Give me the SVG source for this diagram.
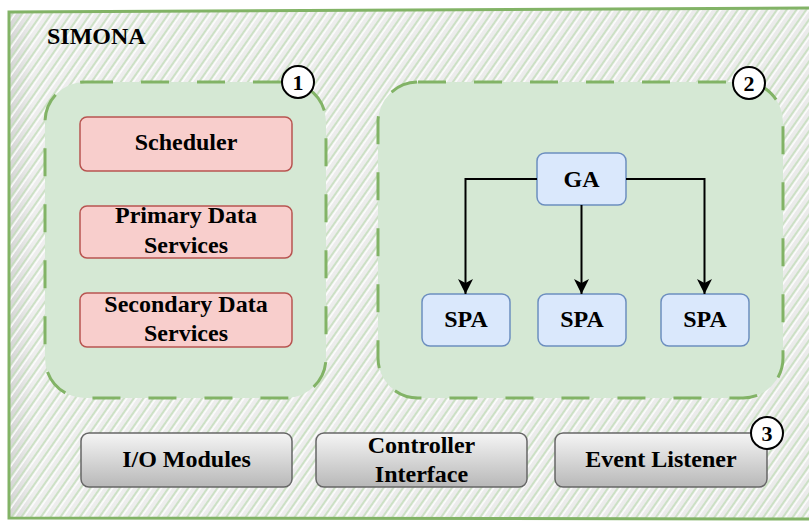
<svg xmlns="http://www.w3.org/2000/svg" width="809" height="521" viewBox="0 0 809 521">
  <defs>
    <style>
      text { font-family: "Liberation Serif", "DejaVu Serif", serif; font-weight: bold; fill: #000; }
      .lbl { font-size: 24px; text-anchor: middle; }
      .title { font-size: 24px; }
      .cluster { fill: #d5e8d4; stroke: #82b366; stroke-width: 3; stroke-dasharray: 28 28; }
      .red { fill: #f8cecc; stroke: #b85450; stroke-width: 1.5; }
      .blue { fill: #dae8fc; stroke: #6c8ebf; stroke-width: 1.5; }
      .gray { fill: url(#grayGrad); stroke: #666666; stroke-width: 1.5; }
      .badge { fill: #ffffff; stroke: #000000; stroke-width: 2; }
      .num { font-size: 22px; text-anchor: middle; }
      .edge { fill: none; stroke: #000000; stroke-width: 2; }
    </style>
    <linearGradient id="grayGrad" x1="0" y1="0" x2="0" y2="1">
      <stop offset="0" stop-color="#f5f5f5"/>
      <stop offset="1" stop-color="#b8b8b8"/>
    </linearGradient>
    <linearGradient id="frameShade" x1="0" y1="0" x2="1" y2="0">
      <stop offset="0" stop-color="#d4d4d4"/>
      <stop offset="0.03" stop-color="#eeeeee"/>
      <stop offset="1" stop-color="#ebebeb"/>
    </linearGradient>
    <pattern id="hatch" width="8" height="8" patternUnits="userSpaceOnUse" patternTransform="rotate(35)">
      <line x1="2" y1="0" x2="2" y2="8" stroke="#c2dcb8" stroke-width="1.5"/>
      <line x1="4.2" y1="0" x2="4.2" y2="8" stroke="#ffffff" stroke-width="1.4"/>
    </pattern>
    <marker id="arrow" markerWidth="16" markerHeight="16" refX="15" refY="8" orient="auto" markerUnits="userSpaceOnUse">
      <path d="M0,0.5 L15,8 L0,15.5 L4,8 Z" fill="#000000"/>
    </marker>
  </defs>

  <!-- outer SIMONA frame -->
  <g id="simona">
    <path d="M9,12 L812,8 L812,519 L9,518 Z" fill="url(#frameShade)"/>
    <path d="M9,12 L812,8 L812,519 L9,518 Z" fill="url(#hatch)"/>
    <path d="M9,12 L812,8 L812,519 L9,518 Z" fill="none" stroke="#82b366" stroke-width="3"/>
    <text class="title" x="47" y="44">SIMONA</text>
  </g>

  <!-- cluster 1: core services -->
  <g id="cluster1">
    <rect class="cluster" x="45" y="82" width="281" height="316" rx="40" ry="40"/>
  </g>

  <!-- cluster 2: agents -->
  <g id="cluster2">
    <rect class="cluster" x="378" y="82" width="405" height="316" rx="40" ry="40"/>
  </g>

  <g id="scheduler">
    <rect class="red" x="80" y="117" width="212" height="54" rx="7"/>
    <text class="lbl" x="186" y="150">Scheduler</text>
  </g>
  <g id="primary-data">
    <rect class="red" x="80" y="206" width="212" height="52" rx="7"/>
    <text class="lbl" x="186" y="223">Primary Data</text>
    <text class="lbl" x="186" y="253">Services</text>
  </g>
  <g id="secondary-data">
    <rect class="red" x="80" y="293" width="212" height="54" rx="7"/>
    <text class="lbl" x="186" y="312">Secondary Data</text>
    <text class="lbl" x="186" y="341">Services</text>
  </g>

  <g id="ga">
    <rect class="blue" x="537" y="153" width="89" height="52" rx="8"/>
    <text class="lbl" x="581.5" y="187">GA</text>
  </g>
  <g id="spa1">
    <rect class="blue" x="422" y="294" width="88" height="52" rx="8"/>
    <text class="lbl" x="466" y="327">SPA</text>
  </g>
  <g id="spa2">
    <rect class="blue" x="538" y="294" width="88" height="52" rx="8"/>
    <text class="lbl" x="582" y="327">SPA</text>
  </g>
  <g id="spa3">
    <rect class="blue" x="661" y="294" width="88" height="52" rx="8"/>
    <text class="lbl" x="705" y="327">SPA</text>
  </g>

  <!-- connectors -->
  <g id="edges">
    <path class="edge" d="M537,179 L465.5,179 L465.5,294" marker-end="url(#arrow)"/>
    <path class="edge" d="M581.5,205 L581.5,294" marker-end="url(#arrow)"/>
    <path class="edge" d="M626,179 L704.5,179 L704.5,294" marker-end="url(#arrow)"/>
  </g>

  <g id="io-modules">
    <rect class="gray" x="81" y="433" width="211" height="54" rx="8"/>
    <text class="lbl" x="186.5" y="467">I/O Modules</text>
  </g>
  <g id="controller-interface">
    <rect class="gray" x="316" y="433" width="211" height="54" rx="8"/>
    <text class="lbl" x="421.5" y="453">Controller</text>
    <text class="lbl" x="421.5" y="482">Interface</text>
  </g>
  <g id="event-listener">
    <rect class="gray" x="555" y="433" width="212" height="54" rx="8"/>
    <text class="lbl" x="661" y="467">Event Listener</text>
  </g>

  <!-- numbered badges -->
  <g id="badge1">
    <circle class="badge" cx="298" cy="82" r="16"/>
    <text class="num" x="298" y="90">1</text>
  </g>
  <g id="badge2">
    <circle class="badge" cx="749" cy="83" r="16"/>
    <text class="num" x="749" y="91">2</text>
  </g>
  <g id="badge3">
    <circle class="badge" cx="767" cy="433" r="16"/>
    <text class="num" x="767" y="441">3</text>
  </g>
</svg>
